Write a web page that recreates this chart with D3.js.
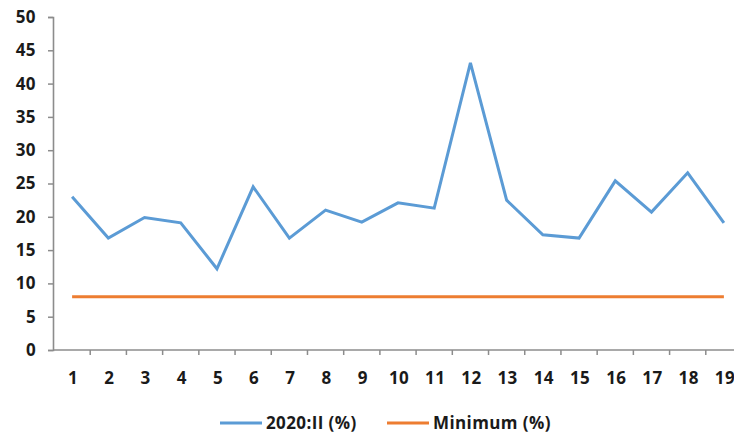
<!DOCTYPE html>
<html>
<head>
<meta charset="utf-8">
<script src="https://cdn.jsdelivr.net/npm/d3@7"></script>
<style>
  html, body { margin: 0; padding: 0; background: #fff; overflow: hidden; }
  svg { display: block; }
  text { font-family: "Open Sans", "DejaVu Sans", sans-serif; font-weight: 700; fill: #1a1a1a; letter-spacing: 0.4px; }
</style>
</head>
<body>
<svg id="chart" width="734" height="434"></svg>
<script>
// Category labels along the x axis
const categories = ["1","2","3","4","5","6","7","8","9","10","11","12","13","14","15","16","17","18","19"];
// Share per category, 2020:II (%)
const share2020II = [23.0, 16.8, 19.9, 19.1, 12.2, 24.5, 16.8, 21.0, 19.2, 22.1, 21.3, 43.1, 22.5, 17.3, 16.8, 25.4, 20.7, 26.6, 19.1];
// Minimum threshold (%)
const minimum = [8, 8, 8, 8, 8, 8, 8, 8, 8, 8, 8, 8, 8, 8, 8, 8, 8, 8, 8];
// Y axis tick values
const yTicks = [0, 5, 10, 15, 20, 25, 30, 35, 40, 45, 50];

const seriesNames = ["2020:II (%)", "Minimum (%)"];
const colors = ["#5B9BD5", "#ED7D31"];
const axisColor = "#8c8c8c";

const svg = d3.select("#chart");

const x = d3.scaleBand().domain(categories).range([54, 742]).paddingInner(0).paddingOuter(0);
const y = d3.scaleLinear().domain([0, 50]).range([350, 17]);

// Y axis
const yAxis = svg.append("g")
  .attr("transform", "translate(53,0)")
  .call(d3.axisLeft(y).tickValues(yTicks).tickSize(5).tickPadding(12).tickFormat(d3.format("d")));
yAxis.select(".domain").attr("stroke", axisColor).attr("stroke-width", 1.6);
yAxis.selectAll(".tick line").attr("stroke", axisColor).attr("stroke-width", 1.5);
yAxis.selectAll(".tick text").style("font-size", "17px").attr("fill", "#1a1a1a");

// X axis: baseline, ticks at category boundaries, labels centered in bands
const xg = svg.append("g").attr("transform", `translate(0,${y(0)})`);
xg.append("line")
  .attr("x1", 53).attr("x2", 742)
  .attr("stroke", axisColor).attr("stroke-width", 1.6);
xg.selectAll("line.tk")
  .data(categories)
  .join("line")
  .attr("class", "tk")
  .attr("x1", d => x(d) + x.bandwidth()).attr("x2", d => x(d) + x.bandwidth())
  .attr("y1", 0).attr("y2", 5)
  .attr("stroke", axisColor).attr("stroke-width", 1.5);
xg.selectAll("text")
  .data(categories)
  .join("text")
  .attr("x", d => x(d) + x.bandwidth() / 2 + 1)
  .attr("y", 34)
  .attr("text-anchor", "middle")
  .style("font-size", "17px")
  .text(d => d);

const line = d3.line()
  .x((d, i) => x(categories[i]) + x.bandwidth() / 2)
  .y(d => y(d));

// Minimum line
svg.append("path")
  .datum(minimum)
  .attr("d", line)
  .attr("fill", "none")
  .attr("stroke", colors[1])
  .attr("stroke-width", 3);

// 2020:II series
svg.append("path")
  .datum(share2020II)
  .attr("d", line)
  .attr("fill", "none")
  .attr("stroke", colors[0])
  .attr("stroke-width", 3)
  .attr("stroke-linejoin", "miter");

// Legend
const legend = svg.append("g").attr("transform", "translate(0,423)");
const legendItems = [
  { name: seriesNames[0], color: colors[0], x: 220 },
  { name: seriesNames[1], color: colors[1], x: 387 }
];
legendItems.forEach(it => {
  legend.append("line")
    .attr("x1", it.x).attr("x2", it.x + 42)
    .attr("y1", 0).attr("y2", 0)
    .attr("stroke", it.color).attr("stroke-width", 3);
  legend.append("text")
    .attr("x", it.x + 46)
    .attr("y", 6)
    .style("font-size", "17px")
    .text(it.name);
});
</script>
</body>
</html>
